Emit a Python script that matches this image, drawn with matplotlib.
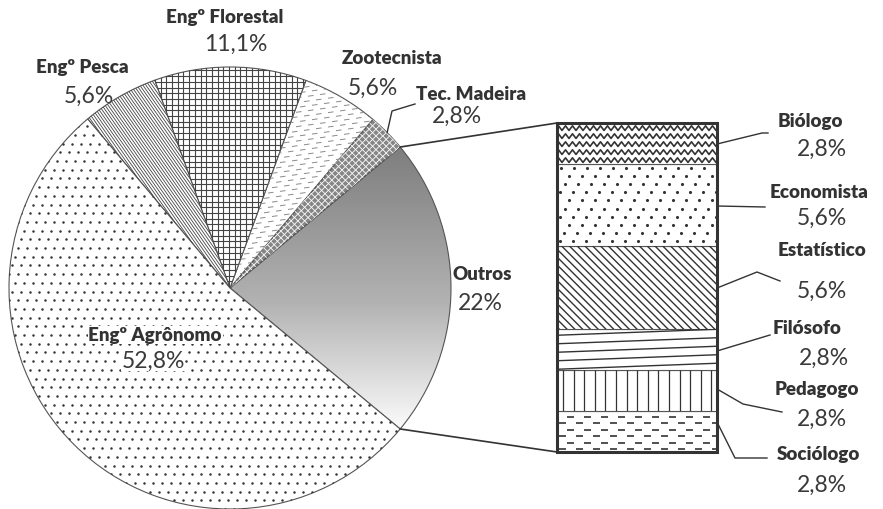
import numpy as np
import matplotlib.pyplot as plt
from matplotlib.patches import Rectangle
from matplotlib.collections import LineCollection
from matplotlib.colors import LinearSegmentedColormap

plt.rcParams['font.family'] = ['Lato', 'DejaVu Sans']

# pie slices, counter-clockwise starting with "Outros" on the right
pie_labels = ["Outros", "Tec. Madeira", "Zootecnista", "Engº Florestal", "Engº Pesca", "Engº Agrônomo"]
pie_values = [22.0, 2.8, 5.6, 11.1, 5.6, 52.8]
pie_pcts = ["22%", "2,8%", "5,6%", "11,1%", "5,6%", "52,8%"]

# breakdown of "Outros", bottom to top
bar_labels = ["Sociólogo", "Pedagogo", "Filósofo", "Estatístico", "Economista", "Biólogo"]
bar_values = [2.8, 2.8, 2.8, 5.6, 5.6, 2.8]
bar_pcts = ["2,8%", "2,8%", "2,8%", "5,6%", "5,6%", "2,8%"]

W, H = 883, 510
fig = plt.figure(figsize=(W / 100, H / 100), dpi=100)
ax = fig.add_axes([0, 0, 1, 1])


def add_lines(segs, clip, color='#333333', lw=1.0, z=2.1):
    lc = LineCollection(segs, colors=color, linewidths=lw, zorder=z)
    ax.add_collection(lc)
    lc.set_clip_path(clip)


def parallel(box, angle, spacing):
    # parallel line segments covering box (x0, x1, y0, y1)
    x0, x1, y0, y1 = box
    c = np.array([(x0 + x1) / 2, (y0 + y1) / 2])
    L = np.hypot(x1 - x0, y1 - y0)
    a = np.deg2rad(angle)
    d = np.array([np.cos(a), np.sin(a)])
    n = np.array([-np.sin(a), np.cos(a)])
    return [[c + o * n - L / 2 * d, c + o * n + L / 2 * d]
            for o in np.arange(-L / 2, L / 2, spacing)]


def dots(box, dx, dy, shift, clip, size, z=1.2):
    x0, x1, y0, y1 = box
    pts = []
    for i, yy in enumerate(np.arange(y0, y1, dy)):
        for xx in np.arange(x0 + (i * shift) % dx, x1, dx):
            pts.append((xx, yy))
    pts = np.array(pts)
    sc = ax.scatter(pts[:, 0], pts[:, 1], s=size, color='#333333', linewidths=0, zorder=z)
    sc.set_clip_path(clip)


# ---- pie ----
cx, cy, R = 230, H - 289, 221
start = -0.5 * pie_values[0] / sum(pie_values) * 360
wedges, _ = ax.pie(pie_values, center=(cx, cy), radius=R, startangle=start,
                   counterclock=True, frame=True,
                   wedgeprops=dict(edgecolor='#555555', linewidth=0.8))
faces = ['none', '#858585', 'white', 'white', 'white', 'white']
for w, fc in zip(wedges, faces):
    w.set_facecolor(fc)
wo, wt, wz, wfl, wpe, wag = wedges
pie_box = (cx - R, cx + R, cy - R, cy + R)

# gradient fill for "Outros"
grad_cmap = LinearSegmentedColormap.from_list(
    'g', [(0, '#fbfbfb'), (0.45, '#b2b2b2'), (1, '#7e7e7e')])
half = R * np.sin(np.deg2rad((wo.theta2 - wo.theta1) / 2))
im = ax.imshow(np.linspace(0, 1, 256).reshape(-1, 1), cmap=grad_cmap, origin='lower',
               extent=[cx, cx + R, cy - half, cy + half], aspect='auto', zorder=0.5)
im.set_clip_path(wo)

# white diagonal grid on "Tec. Madeira"
add_lines(parallel(pie_box, 45, 4.8) + parallel(pie_box, -45, 4.8), wt,
          color='white', lw=0.6, z=1.1)

# short dashes on "Zootecnista"
tilt = np.tan(np.deg2rad(8))
segs = []
for i, y0 in enumerate(np.arange(cy - 40, cy + R + 10, 4.8)):
    for x0 in np.arange(cx - 10 + (i % 3) * 4, cx + R, 12):
        x1 = x0 + 5.5
        segs.append([(x0, y0 + (x0 - cx) * tilt), (x1, y0 + (x1 - cx) * tilt)])
add_lines(segs, wz, color='#8a8a8a', lw=0.7, z=1.1)

# square grid on "Engº Florestal"
add_lines(parallel(pie_box, 0, 5.7) + parallel(pie_box, 90, 5.7), wfl,
          color='#444444', lw=0.8, z=1.1)

# dense diagonal lines on "Engº Pesca"
add_lines(parallel(pie_box, -55, 2.5), wpe, color='#444444', lw=0.6, z=1.1)

# dots on "Engº Agrônomo"
dots(pie_box, 9, 8.7, 3, wag, 3.2, z=1.1)

# ---- stacked bar ----
scale = 329 / sum(bar_values)
heights = [v * scale for v in bar_values]
bottoms = 57 + np.concatenate([[0], np.cumsum(heights)[:-1]])
bars = ax.bar(637, heights, width=160, bottom=bottoms, facecolor='white',
              edgecolor='#555555', linewidth=0.8, zorder=2)

bx0 = bars[0].get_x()
bx1 = bx0 + bars[0].get_width()
by0 = bars[0].get_y()
by1 = bars[-1].get_y() + bars[-1].get_height()


def seg_of(name):
    return bars[bar_labels.index(name)]


def box_of(b):
    return (b.get_x(), b.get_x() + b.get_width(), b.get_y(), b.get_y() + b.get_height())


# zigzag for Biólogo
bb = seg_of("Biólogo")
segs = []
for yy in np.arange(bb.get_y() + 4, bb.get_y() + bb.get_height() + 2, 8):
    xs = np.arange(bx0 - 2, bx1 + 4, 3.5)
    ys = yy + np.where(np.arange(len(xs)) % 2 == 0, -2.3, 2.3)
    segs.append(np.column_stack([xs, ys]))
add_lines(segs, bb, lw=1.2)

# dots for Economista
be = seg_of("Economista")
x0, x1, y0, y1 = box_of(be)
dots((x0 + 3, x1, y0 + 5, y1), 13, 8.2, 4.4, be, 5, z=2.1)

# diagonal lines for Estatístico
bt = seg_of("Estatístico")
add_lines(parallel(box_of(bt), -45, 5.5), bt, lw=1.0)

# slanted lines for Filósofo
bf = seg_of("Filósofo")
segs = [[(bx0, yy), (bx1, yy + 6)]
        for yy in np.arange(bf.get_y() - 8, bf.get_y() + bf.get_height() + 2, 8.5)]
add_lines(segs, bf)

# vertical lines for Pedagogo
bp = seg_of("Pedagogo")
segs = [[(xx, bp.get_y()), (xx, bp.get_y() + bp.get_height())]
        for xx in np.arange(bx0 + 6, bx1, 10.6)]
add_lines(segs, bp, lw=0.9)

# dashes for Sociólogo
bs = seg_of("Sociólogo")
segs = []
for i, yy in enumerate(np.arange(bs.get_y() + 3, bs.get_y() + bs.get_height(), 6.5)):
    for x0 in np.arange(bx0 + 2 + (i % 2) * 8, bx1, 17):
        segs.append([(x0, yy), (x0 + 7, yy)])
add_lines(segs, bs, lw=1.2)

ax.add_patch(Rectangle((bx0, by0), bx1 - bx0, by1 - by0, fill=False,
                       edgecolor='#333333', linewidth=2.2, zorder=3))

# connectors pie -> bar
for ang, yb in [(wo.theta2, by1), (wo.theta1, by0)]:
    px = cx + R * np.cos(np.deg2rad(ang))
    py = cy + R * np.sin(np.deg2rad(ang))
    ax.plot([px, bx0], [py, yb], color='#333333', lw=1.2, zorder=3)

# ---- labels (positions in pixels from the top) ----
txt = '#333333'
lab_font = dict(fontsize=13.5, fontweight='heavy', color=txt)
pct_font = dict(fontsize=16.5, color='#3a3a3a')
pie_label_pos = {
    "Outros": ((482, 275), (480, 303)),
    "Tec. Madeira": ((471, 94), (457, 116)),
    "Zootecnista": ((392, 59), (373, 88)),
    "Engº Florestal": ((225, 18), (236, 44)),
    "Engº Pesca": ((82, 67), (89, 96)),
    "Engº Agrônomo": ((155, 336), (153, 361)),
}
for lab, pct in zip(pie_labels, pie_pcts):
    (lx, ly), (px, py) = pie_label_pos[lab]
    box = None
    if lab == "Engº Agrônomo":
        box = dict(facecolor='white', edgecolor='none', pad=0.5)
    ax.text(lx, H - ly, lab, ha='center', va='center', bbox=box, zorder=4, **lab_font)
    ax.text(px, H - py, pct, ha='center', va='center', bbox=box, zorder=4, **pct_font)

# leader for Tec. Madeira
mid = np.deg2rad((wt.theta1 + wt.theta2) / 2)
ax.plot([cx + R * np.cos(mid), 392, 415], [cy + R * np.sin(mid), H - 112, H - 105],
        color='#333333', lw=1.0, zorder=3)

bar_label_pos = {
    "Sociólogo": ((818, 455), (822, 485), [(423, 0), (459, 18), (459, 50)]),
    "Pedagogo": ((817, 390), (822, 419), [(390, 0), (405, 26), (413, 65)]),
    "Filósofo": ((807, 328), (824, 358), [(352, 0), (336, 53)]),
    "Estatístico": ((822, 251), (822, 291), [(289, 0), (273, 40), (282, 63)]),
    "Economista": ((819, 192), (822, 218), [(207, 0), (208, 48)]),
    "Biólogo": ((810, 122), (822, 149), [(145, 0), (134, 45), (134, 51)]),
}
for lab, pct in zip(bar_labels, bar_pcts):
    (lx, ly), (px, py), leader = bar_label_pos[lab]
    ax.text(lx, H - ly, lab, ha='center', va='center', **lab_font)
    ax.text(px, H - py, pct, ha='center', va='center', **pct_font)
    ax.plot([bx1 + dx for _, dx in leader], [H - yy for yy, _ in leader],
            color='#333333', lw=1.0, zorder=3)

ax.set_xlim(0, W)
ax.set_ylim(0, H)
ax.set_aspect('auto')
ax.axis('off')
fig.savefig('out.png', dpi=100, facecolor='white')
